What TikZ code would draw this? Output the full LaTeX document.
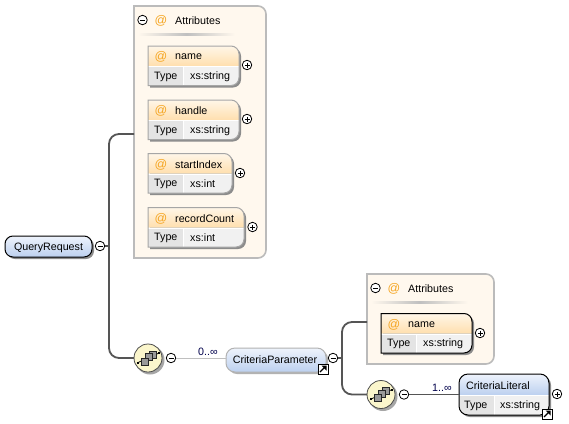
\documentclass[tikz,border=0pt]{standalone}
\usepackage{fontspec}
\setmainfont{Liberation Sans}
\usetikzlibrary{calc}
\definecolor{hdrO}{HTML}{FFDFAE}
\definecolor{hdrW}{HTML}{FFF6E8}
\definecolor{cellA}{HTML}{E4E4E4}
\definecolor{cellB}{HTML}{F1F1F1}
\definecolor{boxbg}{HTML}{FFF8EE}
\definecolor{boxln}{HTML}{BBBBBB}
\definecolor{atc}{HTML}{F5A623}
\definecolor{blT}{HTML}{EEF3FC}
\definecolor{blB}{HTML}{BCD0EF}
\definecolor{seqbg}{HTML}{FBF6CC}
\definecolor{conn}{HTML}{555555}
\tikzset{
  lbl/.style={font=\fontsize{10.7}{12}\selectfont,inner sep=0pt,text=black},
  occ/.style={font=\fontsize{10.7}{12}\selectfont,inner sep=0pt,text=blue!30!black},
  atsign/.style={font=\fontsize{12.5}{13}\selectfont,inner sep=0pt,text=atc},
  hold/.style={inner sep=0pt,outer sep=0pt,rectangle},
  heavy/.style={draw=conn,line width=1.8pt},
  thin line/.style={draw=black!25,line width=0.7pt},
  toggle/.style={circle,draw=black,fill=white,line width=0.8pt,minimum size=9.5pt,inner sep=0pt,outer sep=0pt},
  seq/.style={circle,draw=black!70,fill=seqbg,line width=0.8pt,minimum size=28pt,inner sep=0pt,outer sep=0pt},
}
\newcommand{\minusat}[3]{\node[toggle] (#1) at (#2,#3) {};
  \draw[line width=.8pt] ($(#1.center)+(-2.5,0)$) -- ($(#1.center)+(2.5,0)$);}
\newcommand{\plusat}[3]{\node[toggle] (#1) at (#2,#3) {};
  \draw[line width=.8pt] ($(#1.center)+(-2.5,0)$) -- ($(#1.center)+(2.5,0)$)
    ($(#1.center)+(0,-2.5)$) -- ($(#1.center)+(0,2.5)$);}
\newcommand{\linkat}[3]{\node[hold,draw=black,fill=white,line width=.9pt,minimum size=10pt] (#1) at (#2,#3) {};
  \draw[line width=1.3pt] ($(#1.center)+(-3,3)$) -- ($(#1.center)+(2,-2)$);
  \fill ($(#1.center)+(3.5,-3.5)$) -- ($(#1.center)+(-1.5,-3.5)$) -- ($(#1.center)+(3.5,1.5)$) -- cycle;}
\newcommand{\seqat}[3]{
  \fill[black!35] (#2+2,#3+2) circle (14.5);
  \node[seq] (#1) at (#2,#3) {};
  \begin{scope}[shift={(#2,#3)}]
    \draw[line width=.8pt] (-11,5) -- (11,-5);
    \filldraw[fill=black!40,draw=black!85,line width=.7pt] (1,-7) rectangle (8,0);
    \filldraw[fill=black!40,draw=black!85,line width=.7pt] (-3,-4.5) rectangle (4,2.5);
    \filldraw[fill=black!40,draw=black!85,line width=.7pt] (-7,0) rectangle (0,7);
    \fill (-11,3.5) rectangle (-9,5.5);
    \fill (10,-6) rectangle (12,-4);
  \end{scope}}
\newcommand{\rowbox}[9]{
  \pgfmathsetmacro{\ymid}{#3+20}
  \fill[black!45] (#2+2,#3+2) -- (#4-8+2,#3+2) arc[start angle=-90,end angle=0,radius=8] -- (#4+2,#5-8+2) arc[start angle=0,end angle=90,radius=8] -- (#2+2,#5+2) -- cycle;
  \node[hold,minimum width=#4pt-#2pt,minimum height=#5pt-#3pt] (#1) at ({(#2+#4)/2},{(#3+#5)/2}) {};
  \shade[top color=#7,bottom color=#8] (#2,#3) -- (#4-8,#3) arc[start angle=-90,end angle=0,radius=8] -- (#4,\ymid) -- (#2,\ymid) -- cycle;
  \fill[cellB] (#2,\ymid) -- (#4,\ymid) -- (#4,#5-8) arc[start angle=0,end angle=90,radius=8] -- (#2,#5) -- cycle;
  \fill[cellA] (#2,\ymid) rectangle (#9,#5);
  \fill[white] (#9,\ymid) rectangle (#9+1,#5);
  \fill[white] (#2,\ymid) rectangle (#4,\ymid+1);
  \draw[draw=#6,line width=1pt] (#2,#3) -- (#4-8,#3) arc[start angle=-90,end angle=0,radius=8] -- (#4,#5-8) arc[start angle=0,end angle=90,radius=8] -- (#2,#5) -- cycle;
}
\newcommand{\attrbox}[7]{%
  \rowbox{#1}{#2}{#3}{#4}{#3+39.5}{#5}{hdrW}{hdrO}{#2+35}
  \node[atsign,anchor=center] (#1at) at (#2+13,#3+11) {@};
  \node[lbl,anchor=west] (#1lab) at (#2+27,#3+11) {#6};
  \node[lbl,anchor=west] (#1ty) at (#2+6,#3+30.5) {Type};
  \node[lbl,anchor=west] (#1val) at (#2+42,#3+30.5) {#7};
}
\newcommand{\panel}[5]{
  \node[hold,minimum width=#4pt-#2pt,minimum height=#5pt-#3pt] (#1) at ({(#2+#4)/2},{(#3+#5)/2}) {};
  \filldraw[fill=boxbg,draw=boxln,line width=1.6pt] (#2,#3) -- (#4-8,#3) arc[start angle=-90,end angle=0,radius=8] -- (#4,#5-8) arc[start angle=0,end angle=90,radius=8] -- (#2,#5) -- cycle;
  \minusat{#1m}{#2+8.5}{#3+14}
  \node[atsign] (#1at) at (#2+27,#3+15) {@};
  \node[lbl,anchor=west] (#1lab) at (#2+41,#3+15) {Attributes};
  \shade[left color=boxbg,right color=boxbg,middle color=black!25] (#2+4,#3+27.5) rectangle (#2+101,#3+29.5);
}
\begin{document}
\begin{tikzpicture}[x=1pt,y=-1pt]
\useasboundingbox (0,0) rectangle (569,423);
\fill[white] (0,0) rectangle (569,423);
\coordinate (rootbus) at (109,246);
\coordinate (critbus) at (342,358);
\coordinate (attrsAtap) at (134,134);
\coordinate (attrsBtap) at (367,322);
\panel{attrsA}{134}{6}{266}{258}
\panel{attrsB}{367}{274}{494}{364}
\attrbox{aname}{148}{46}{239}{black!35}{name}{xs:string}
\attrbox{ahandle}{148}{100}{239}{black!35}{handle}{xs:string}
\attrbox{astart}{148}{153.5}{232}{black!35}{startIndex}{xs:int}
\attrbox{acount}{148}{207.5}{244}{black!35}{recordCount}{xs:int}
\attrbox{bname}{381}{313.5}{472}{black}{name}{xs:string}
\plusat{pa}{247}{65}
\plusat{pb}{247}{119}
\plusat{pc}{240}{173}
\plusat{pd}{252.5}{227}
\plusat{pe}{480}{333}
% root
\fill[black!45,rounded corners=8pt] (7,238) rectangle (94,259);
\node[hold,draw=black,line width=1pt,rounded corners=8pt,top color=blT,bottom color=blB,minimum width=87pt,minimum height=21pt] (root) at (48.5,246.5) {};
\node[lbl,anchor=center] (rootlab) at (48.5,247.5) {QueryRequest};
\minusat{rootm}{100}{246}
\seqat{seqA}{148}{358}
\minusat{seqAm}{171}{358}
% CriteriaParameter
\fill[black!30,rounded corners=9pt] (228,350) rectangle (328,374);
\node[hold,draw=black!30,line width=1pt,rounded corners=9pt,top color=blT,bottom color=blB,minimum width=100pt,minimum height=24pt] (critp) at (276,360) {};
\node[lbl,anchor=center] (critplab) at (275,360) {CriteriaParameter};
\minusat{critpm}{333}{358}
\linkat{critplink}{323}{369}
\seqat{seqB}{381}{394.5}
\minusat{seqBm}{404}{394.5}
% CriteriaLiteral
\fill[black!45,rounded corners=9pt] (461,376) rectangle (551,417);
\node[hold,minimum width=90pt,minimum height=41pt] (critl) at (504,394.5) {};
\begin{scope}
  \clip[rounded corners=9pt] (459,374) rectangle (549,415);
  \shade[top color=blT,bottom color=blB] (459,374) rectangle (549,395);
  \fill[cellB] (459,395) rectangle (549,415);
  \fill[cellA] (459,395) rectangle (494,415);
  \fill[white] (494,395) rectangle (495,415);
  \fill[white] (459,395) rectangle (549,396);
\end{scope}
\draw[black,line width=1pt,rounded corners=9pt] (459,374) rectangle (549,415);
\node[lbl,anchor=west] (critllab) at (466,385.5) {CriteriaLiteral};
\node[lbl,anchor=west] (critlty) at (464,406) {Type};
\node[lbl,anchor=west] (critlval) at (500,406) {xs:string};
\plusat{critlp}{557}{394}
\linkat{critllink}{547}{414}
% connectors
\draw[heavy] (rootm.east) -- (rootbus);
\draw[heavy,rounded corners=10pt] (attrsAtap) -| (rootbus) |- (seqA.west);
\draw[thin line] (seqAm.east) -- (critp.west |- seqAm);
\draw[heavy] (critpm.east) -- (critbus);
\draw[heavy,rounded corners=10pt] (attrsBtap) -| (critbus) |- (seqB.west);
\draw[heavy] (seqBm.east) -- (critl.west |- seqBm);
\node[occ] (occA) at (208,351.5) {0..∞};
\node[occ] (occB) at (442,387.5) {1..∞};
\end{tikzpicture}
\end{document}
